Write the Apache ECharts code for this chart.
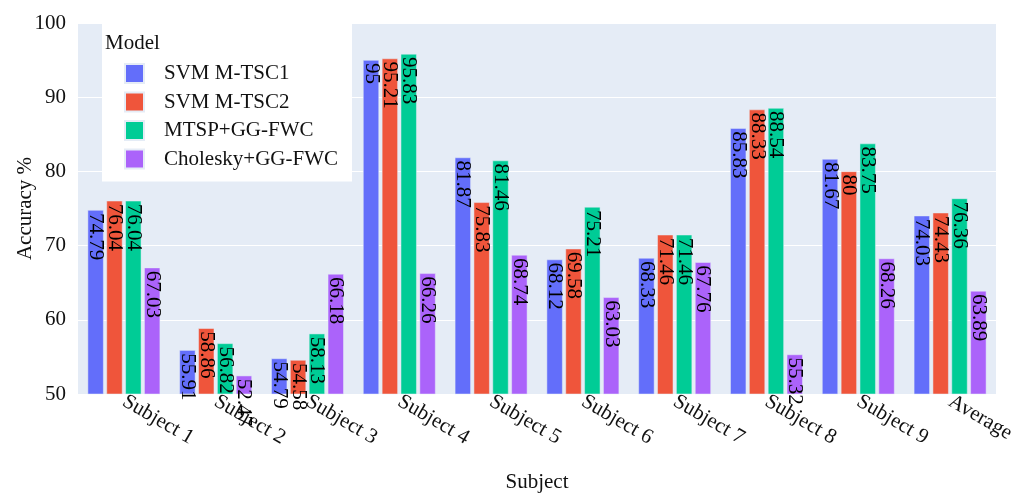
<!DOCTYPE html>
<html>
<head>
<meta charset="utf-8">
<script src="https://cdn.jsdelivr.net/npm/echarts@6/dist/echarts.min.js"></script>
<style>
  html, body { margin: 0; padding: 0; background: #fff; }
  #chart { width: 1027px; height: 495px; }
</style>
</head>
<body>
<div id="chart"></div>
<script>
// Per-subject accuracy (%) for each model
const subjects = ['Subject 1', 'Subject 2', 'Subject 3', 'Subject 4', 'Subject 5',
                  'Subject 6', 'Subject 7', 'Subject 8', 'Subject 9', 'Average'];
const svmTsc1   = [74.79, 55.91, 54.79, 95,    81.87, 68.12, 68.33, 85.83, 81.67, 74.03];
const svmTsc2   = [76.04, 58.86, 54.58, 95.21, 75.83, 69.58, 71.46, 88.33, 80,    74.43];
const mtspGg    = [76.04, 56.82, 58.13, 95.83, 81.46, 75.21, 71.46, 88.54, 83.75, 76.36];
const cholGg    = [67.03, 52.47, 66.18, 66.26, 68.74, 63.03, 67.76, 55.32, 68.26, 63.89];
const modelNames = ['SVM M-TSC1', 'SVM M-TSC2', 'MTSP+GG-FWC', 'Cholesky+GG-FWC'];
const yTicks = [50, 60, 70, 80, 90, 100];

const FONT = 'Liberation Serif';
const FS = 21;
const TEXT = '#111';
const colors = ['#636EFA', '#EF553B', '#00CC96', '#AB63FA'];
const seriesData = [svmTsc1, svmTsc2, mtspGg, cholGg];

const chart = echarts.init(document.getElementById('chart'), null, { renderer: 'canvas' });

const series = modelNames.map((name, i) => ({
  name: name,
  type: 'bar',
  data: seriesData[i],
  barGap: '18%',
  barCategoryGap: '21%',
  itemStyle: { color: colors[i], borderColor: '#E5ECF6', borderWidth: 0.5 },
  label: {
    show: true,
    position: 'insideTop',
    rotate: -90,
    align: 'left',
    verticalAlign: 'middle',
    distance: 3,
    fontFamily: FONT,
    fontSize: FS,
    color: '#000',
    formatter: p => String(p.value)
  }
}));

chart.setOption({
  animation: false,
  color: colors,
  textStyle: { fontFamily: FONT, color: TEXT },
  title: {
    text: 'Model',
    left: 105,
    top: 33,
    z: 10,
    padding: 0,
    textStyle: { fontFamily: FONT, fontSize: FS, fontWeight: 'normal', color: TEXT }
  },
  legend: {
    orient: 'vertical',
    left: 102,
    top: 23,
    backgroundColor: '#ffffff',
    padding: [40, 14, 12, 22],
    itemWidth: 19,
    itemHeight: 19,
    itemGap: 7.5,
    icon: 'rect',
    textStyle: { fontFamily: FONT, fontSize: FS, color: TEXT, padding: [0, 0, 0, 15] },
    data: modelNames
  },
  grid: {
    left: 78, right: 31, top: 23, bottom: 101,
    containLabel: false,
    outerBoundsMode: 'none',
    show: true, backgroundColor: '#E5ECF6', borderWidth: 0
  },
  xAxis: {
    type: 'category',
    data: subjects,
    name: 'Subject',
    nameLocation: 'middle',
    nameGap: 78,
    nameTextStyle: { fontFamily: FONT, fontSize: FS, color: TEXT },
    axisLine: { show: false },
    axisTick: { show: false },
    axisLabel: { rotate: -30, fontFamily: FONT, fontSize: FS, color: TEXT, margin: 6, interval: 0 }
  },
  yAxis: {
    type: 'value',
    min: yTicks[0],
    max: yTicks[yTicks.length - 1],
    interval: 10,
    name: 'Accuracy %',
    nameLocation: 'middle',
    nameGap: 42,
    nameMoveOverlap: false,
    nameTextStyle: { fontFamily: FONT, fontSize: FS, color: TEXT },
    axisLine: { show: false },
    axisTick: { show: false },
    axisLabel: { fontFamily: FONT, fontSize: FS, color: TEXT, margin: 12 },
    splitLine: { lineStyle: { color: '#ffffff', width: 1 } }
  },
  series: series
});
</script>
</body>
</html>
